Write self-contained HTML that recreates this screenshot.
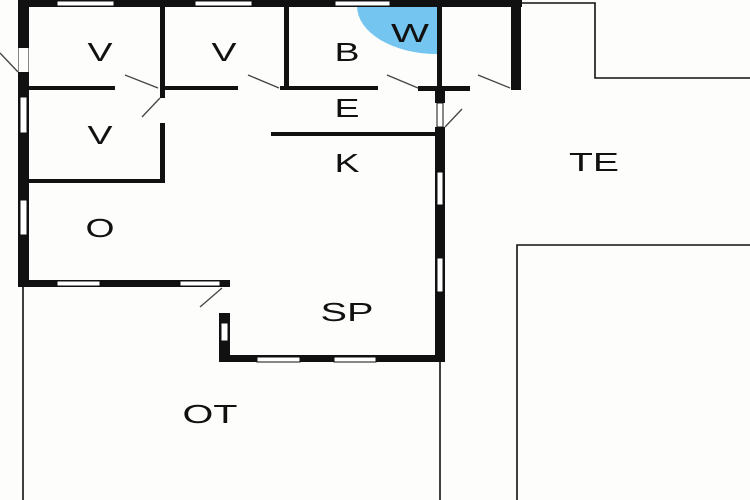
<!DOCTYPE html>
<html><head><style>body{margin:0;background:#fff}svg{display:block}text{font-family:"Liberation Sans",sans-serif;font-size:26px;fill:#111;text-anchor:middle}</style></head><body>
<svg width="750" height="500" viewBox="0 0 750 500">
<rect width="750" height="500" fill="#fdfdfc"/>
<path d="M437,6 L357,6 A80,48 0 0 0 437,54 Z" fill="#74c6f0"/>
<g fill="none" stroke="#111" stroke-width="1.6">
<polyline points="522,3 595,3 595,78 750,78"/>
<polyline points="750,245 517,245 517,500"/>
<line x1="23" y1="287" x2="23" y2="500"/>
<line x1="440" y1="362" x2="440" y2="500"/>
</g>
<g fill="#111">
<rect x="18" y="0" width="504" height="7"/>
<rect x="18" y="0" width="11" height="287"/>
<rect x="160" y="0" width="5" height="98"/>
<rect x="160" y="123" width="5" height="60"/>
<rect x="29" y="179" width="136" height="4"/>
<rect x="29" y="86" width="86" height="4"/>
<rect x="165" y="86" width="73" height="4"/>
<rect x="280" y="86" width="98" height="4"/>
<rect x="418" y="86" width="52" height="5"/>
<rect x="284" y="0" width="5" height="88"/>
<rect x="437" y="0" width="5" height="88"/>
<rect x="435" y="86" width="10" height="17"/>
<rect x="435" y="127" width="10" height="235"/>
<rect x="511" y="0" width="10" height="90"/>
<rect x="271" y="132" width="164" height="4"/>
<rect x="18" y="280" width="212" height="7"/>
<rect x="219" y="313" width="11" height="49"/>
<rect x="219" y="355" width="226" height="7"/>
</g>
<g fill="#fff" stroke="#111" stroke-width="1">
<rect x="57" y="1" width="57" height="5"/>
<rect x="195" y="1" width="57" height="5"/>
<rect x="335" y="1" width="55" height="5"/>
<rect x="20" y="97" width="7" height="36"/>
<rect x="20" y="200" width="7" height="35"/>
<rect x="57" y="281" width="43" height="5"/>
<rect x="180" y="281" width="40" height="5"/>
<rect x="221" y="323" width="7" height="18"/>
<rect x="257" y="357" width="43" height="5"/>
<rect x="334" y="357" width="42" height="5"/>
<rect x="437" y="172" width="6" height="33"/>
<rect x="437" y="258" width="6" height="34"/>
<rect x="437" y="103" width="6" height="24"/>
</g>
<rect x="18.5" y="48" width="10" height="24" fill="#fdfdfc"/>
<g stroke="#444" stroke-width="1.3">
<line x1="0" y1="53" x2="18" y2="72"/>
<line x1="125" y1="75" x2="158" y2="88"/>
<line x1="142" y1="117" x2="160" y2="98"/>
<line x1="248" y1="75" x2="279" y2="88"/>
<line x1="387" y1="75" x2="418" y2="88"/>
<line x1="478" y1="75" x2="510" y2="88"/>
<line x1="445" y1="127" x2="462" y2="109"/>
<line x1="200" y1="307" x2="222" y2="288"/>
</g>
<g lengthAdjust="spacingAndGlyphs">
<text x="100" y="61" textLength="25" lengthAdjust="spacingAndGlyphs">V</text>
<text x="224" y="61" textLength="25" lengthAdjust="spacingAndGlyphs">V</text>
<text x="100" y="144" textLength="25" lengthAdjust="spacingAndGlyphs">V</text>
<text x="347" y="61" textLength="25" lengthAdjust="spacingAndGlyphs">B</text>
<text x="410" y="42" textLength="38" lengthAdjust="spacingAndGlyphs">W</text>
<text x="347" y="117" textLength="25" lengthAdjust="spacingAndGlyphs">E</text>
<text x="347" y="172" textLength="25" lengthAdjust="spacingAndGlyphs">K</text>
<text x="594" y="171" textLength="50" lengthAdjust="spacingAndGlyphs">TE</text>
<text x="100" y="237" textLength="29" lengthAdjust="spacingAndGlyphs">O</text>
<text x="347" y="321" textLength="53" lengthAdjust="spacingAndGlyphs">SP</text>
<text x="210" y="423" textLength="55" lengthAdjust="spacingAndGlyphs">OT</text>
</g>
</svg>
</body></html>
